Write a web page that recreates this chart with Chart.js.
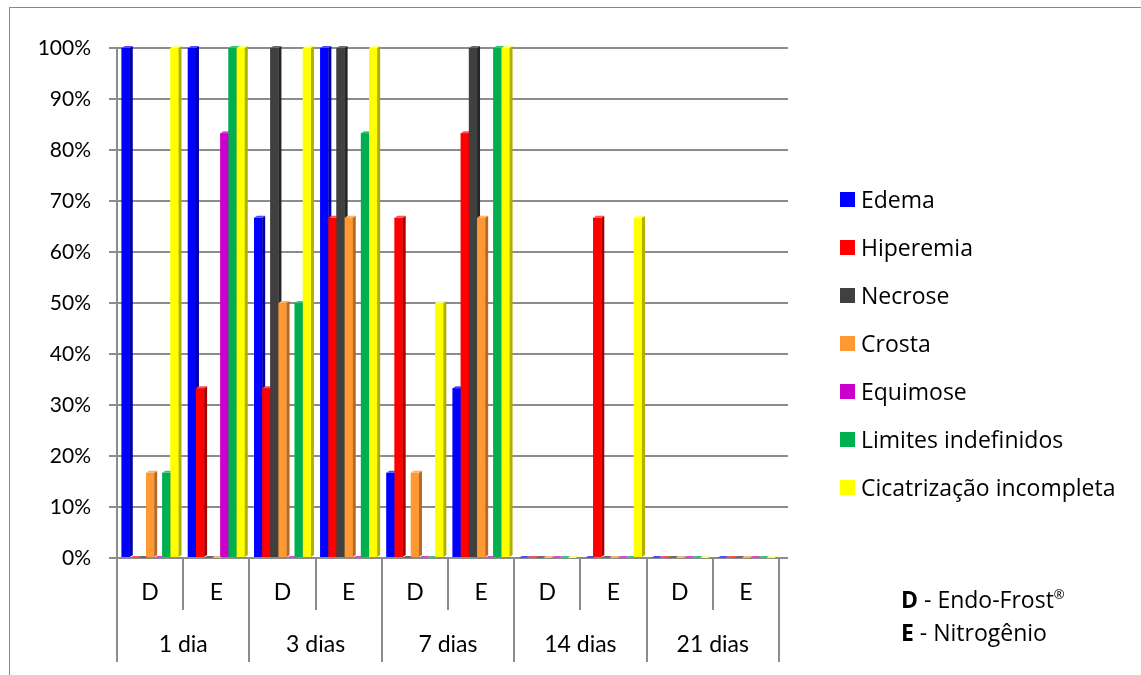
<!DOCTYPE html>
<html>
<head>
<meta charset="utf-8">
<script src="https://cdn.jsdelivr.net/npm/chart.js@4.4.1/dist/chart.umd.min.js"></script>
<style>
  html, body { margin: 0; padding: 0; background: #fff; }
  #wrap { position: relative; width: 1141px; height: 675px; color: #000; }
  #frame { position: absolute; left: 9px; top: 7px; right: 0; bottom: 0; border-top: 1px solid #888; border-left: 1px solid #888; }
  canvas { position: absolute; left: 0; top: 0; }
  #legend { position: absolute; left: 840px; top: 175px; margin: 0; padding: 0; list-style: none;
            font-family: "Open Sans", sans-serif; font-size: 23px; }
  #legend li { height: 48px; display: flex; align-items: center; white-space: nowrap; }
  #legend span.box { width: 15px; height: 15px; margin-right: 6px; display: inline-block; }
  #note { position: absolute; left: 901px; top: 578px; font-family: "Open Sans", sans-serif; font-size: 23px; line-height: 33px; white-space: nowrap; }
  #note sup { font-size: 13px; }
</style>
</head>
<body>
<div id="wrap">
  <div id="frame"></div>
  <canvas id="chart" width="1141" height="675"></canvas>
  <ul id="legend"></ul>
  <div id="note"><b>D</b> - Endo-Frost<sup>®</sup><br><b>E</b> - Nitrogênio</div>
</div>
<script>
// data
const groups = ["1 dia", "3 dias", "7 dias", "14 dias", "21 dias"];
const categories = ["D", "E", "D", "E", "D", "E", "D", "E", "D", "E"];
const yTicks = [0, 10, 20, 30, 40, 50, 60, 70, 80, 90, 100];

const edema = [100, 100, 66.7, 100, 16.7, 33.3, 0, 0, 0, 0];
const hiperemia = [0, 33.3, 33.3, 66.7, 66.7, 83.3, 0, 66.7, 0, 0];
const necrose = [0, 0, 100, 100, 0, 100, 0, 0, 0, 0];
const crosta = [16.7, 0, 50, 66.7, 16.7, 66.7, 0, 0, 0, 0];
const equimose = [0, 83.3, 0, 0, 0, 0, 0, 0, 0, 0];
const limites = [16.7, 100, 50, 83.3, 0, 100, 0, 0, 0, 0];
const cicatrizacao = [100, 100, 100, 100, 50, 100, 0, 66.7, 0, 0];

const seriesNames = ["Edema", "Hiperemia", "Necrose", "Crosta", "Equimose", "Limites indefinidos", "Cicatrização incompleta"];
const seriesValues = [edema, hiperemia, necrose, crosta, equimose, limites, cicatrizacao];
const frontColors = ["#0000ff", "#ff0000", "#404040", "#ff9933", "#cc00cc", "#00b050", "#ffff00"];
const sideColors = ["#0000a8", "#a80000", "#262626", "#b86a22", "#880088", "#00733a", "#b0b000"];
const topColors = ["#4d4dff", "#ff5050", "#6a6a6a", "#ffb366", "#dd44dd", "#33c878", "#ffff80"];

const DX = 3, DY = 2;
const gridColor = "#8c8c8c";

// fake 3d look: redraw each series left to right with a side and a top face,
// using the bar geometry that chart.js computed
const bar3d = {
  id: "bar3d",
  beforeDatasetsDraw(chart) {
    // back wall gridlines run a bit past the floor on the right
    const { ctx, chartArea, scales } = chart;
    ctx.save();
    ctx.strokeStyle = gridColor;
    ctx.lineWidth = 2;
    yTicks.forEach((v) => {
      const py = scales.y.getPixelForValue(v);
      ctx.beginPath();
      ctx.moveTo(chartArea.right, py);
      ctx.lineTo(chartArea.right + 9, py);
      ctx.stroke();
    });
    ctx.restore();
  },
  afterDatasetsDraw(chart) {
    const ctx = chart.ctx;
    seriesNames.forEach((name, i) => {
      const meta = chart.getDatasetMeta(i);
      meta.data.forEach((bar) => {
        const { x, y, base, width } = bar.getProps(["x", "y", "base", "width"], true);
        const l = x - width / 2, r = x + width / 2;
        ctx.save();
        ctx.fillStyle = frontColors[i];
        ctx.fillRect(l, y, width, base - y);
        ctx.fillStyle = sideColors[i];
        ctx.beginPath();
        ctx.moveTo(r, y);
        ctx.lineTo(r + DX, y - DY);
        ctx.lineTo(r + DX, base - DY);
        ctx.lineTo(r, base);
        ctx.closePath();
        ctx.fill();
        ctx.fillStyle = topColors[i];
        ctx.beginPath();
        ctx.moveTo(l, y);
        ctx.lineTo(l + DX, y - DY);
        ctx.lineTo(r + DX, y - DY);
        ctx.lineTo(r, y);
        ctx.closePath();
        ctx.fill();
        ctx.restore();
      });
    });
  },
};

Chart.defaults.font.family = "Lato, sans-serif";
Chart.defaults.font.size = 21;
Chart.defaults.color = "#000";

const datasets = seriesNames.map((name, i) => ({
  label: name,
  data: seriesValues[i],
  backgroundColor: frontColors[i],
  borderWidth: 0,
  barPercentage: 1,
  categoryPercentage: 0.86,
}));

// legend as html, from the same arrays
const legendEl = document.getElementById("legend");
seriesNames.forEach((name, i) => {
  const li = document.createElement("li");
  li.innerHTML = `<span class="box" style="background:${frontColors[i]}"></span>${name}`;
  legendEl.appendChild(li);
});

new Chart(document.getElementById("chart"), {
  type: "bar",
  data: { labels: categories, datasets },
  plugins: [bar3d],
  options: {
    responsive: false,
    animation: false,
    layout: { padding: { top: 48, left: 0, right: 362, bottom: 13 } },
    plugins: { legend: { display: false }, tooltip: { enabled: false } },
    scales: {
      x: {
        type: "category",
        offset: true,
        grid: { offset: true, drawOnChartArea: false, tickLength: 52, color: gridColor, lineWidth: 2 },
        border: { color: gridColor, width: 2 },
        ticks: { padding: -31, maxRotation: 0, font: { size: 23 } },
        afterFit: (s) => { s.height = 52; },
      },
      x2: {
        type: "category",
        labels: groups,
        position: "bottom",
        offset: true,
        grid: { offset: true, drawOnChartArea: false, tickLength: 52, color: gridColor, lineWidth: 2 },
        border: { display: false },
        ticks: { padding: -31, maxRotation: 0, font: { size: 23 } },
        afterFit: (s) => { s.height = 52; },
      },
      y: {
        min: 0,
        max: 100,
        afterBuildTicks: (s) => { s.ticks = yTicks.map((v) => ({ value: v })); },
        ticks: { padding: 18, callback: (v) => v + "%" },
        grid: { color: gridColor, lineWidth: 2, tickLength: 8 },
        border: { color: gridColor, width: 2 },
        afterFit: (s) => { s.width = 117; },
      },
    },
  },
});
</script>
</body>
</html>
